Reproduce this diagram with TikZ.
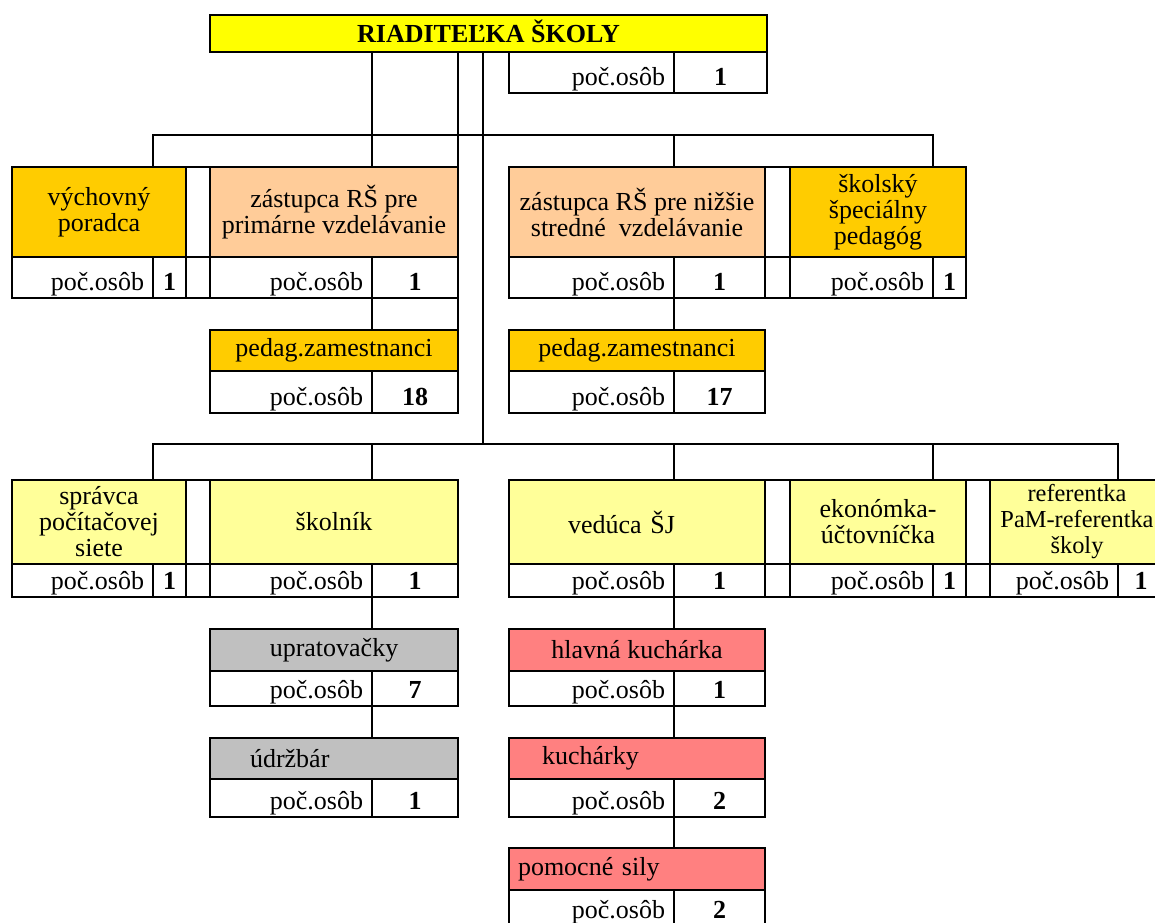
\documentclass[tikz,border=0pt]{standalone}
\usepackage{fontspec}
\setmainfont{Liberation Serif}
\usetikzlibrary{positioning,calc}
\definecolor{zlta}{HTML}{FFFF00}
\definecolor{oranzova}{HTML}{FFCC00}
\definecolor{marhulova}{HTML}{FFCC99}
\definecolor{svetlozlta}{HTML}{FFFF99}
\definecolor{siva}{HTML}{C0C0C0}
\definecolor{ruzova}{HTML}{FF8080}
\tikzstyle{bunka}=[draw,rectangle,inner sep=0pt,outer sep=0pt,anchor=north west]
\tikzstyle{hlava}=[bunka,fill=zlta,font=\bfseries,text height=8.5pt,text depth=0pt]
\tikzstyle{oranz}=[bunka,fill=oranzova,align=center]
\tikzstyle{zast}=[bunka,fill=marhulova,align=center]
\tikzstyle{prac}=[bunka,fill=svetlozlta,align=center]
\tikzstyle{upr}=[bunka,fill=siva,align=center]
\tikzstyle{kuchyna}=[bunka,fill=ruzova,align=center]
\tikzstyle{pocet}=[bunka,fill=white,align=right,inner xsep=4.5pt,text depth=0pt]
\tikzstyle{cislo}=[bunka,fill=white,font=\bfseries,text depth=0pt]
\tikzstyle{medzera}=[bunka,fill=white]

\begin{document}
\fontsize{13}{13}\selectfont
\begin{tikzpicture}[x=0.5pt,y=-0.5pt,line width=1pt]
  \useasboundingbox (0,0) rectangle (1155,922);
  % riaditelka
  \node [hlava,minimum width=278.5pt,minimum height=18.5pt] (riad) at (210,15) {RIADITEĽKA ŠKOLY};
  \node [pocet,text width=73.5pt,minimum height=20.5pt,text height=12.5pt] (riad-p) at (509,52) {poč.osôb};
  \node [cislo,minimum width=46.5pt,minimum height=20.5pt,text height=12.5pt] (riad-n) at (riad-p.north east) {1};

  % prvy rad
  \node [oranz,minimum width=87pt,minimum height=45pt] (vych) at (12,167) {výchovný\\poradca};
  \node [pocet,text width=61.5pt,minimum height=20.5pt,text height=12.5pt] (vych-p) at (vych.south west) {poč.osôb};
  \node [cislo,minimum width=16.5pt,minimum height=20.5pt,text height=12.5pt] (vych-n) at (vych-p.north east) {1};
  \node [medzera,minimum width=12pt,minimum height=45pt] (m1) at (vych.north east) {};
  \node [medzera,minimum width=12pt,minimum height=20.5pt] (m1-p) at (m1.south west) {};
  \node [zast,minimum width=124pt,minimum height=45pt] (zastP) at (m1.north east) {zástupca RŠ pre\\primárne vzdelávanie};
  \node [pocet,text width=72pt,minimum height=20.5pt,text height=12.5pt] (zastP-p) at (zastP.south west) {poč.osôb};
  \node [cislo,minimum width=43pt,minimum height=20.5pt,text height=12.5pt] (zastP-n) at (zastP-p.north east) {1};

  \node [zast,minimum width=128pt,minimum height=45pt] (zastN) at (509,167) {zástupca RŠ pre nižšie\\stredné\ \ vzdelávanie};
  \node [pocet,text width=73.5pt,minimum height=20.5pt,text height=12.5pt] (zastN-p) at (zastN.south west) {poč.osôb};
  \node [cislo,minimum width=45.5pt,minimum height=20.5pt,text height=12.5pt] (zastN-n) at (zastN-p.north east) {1};
  \node [medzera,minimum width=12.5pt,minimum height=45pt] (m2) at (zastN.north east) {};
  \node [medzera,minimum width=12.5pt,minimum height=20.5pt] (m2-p) at (m2.south west) {};
  \node [oranz,minimum width=88pt,minimum height=45pt] (skolsky) at (m2.north east) {školský\\špeciálny\\pedagóg};
  \node [pocet,text width=62.5pt,minimum height=20.5pt,text height=12.5pt] (skolsky-p) at (skolsky.south west) {poč.osôb};
  \node [cislo,minimum width=16.5pt,minimum height=20.5pt,text height=12.5pt] (skolsky-n) at (skolsky-p.north east) {1};

  % pedagogovia
  \node [oranz,minimum width=124pt,minimum height=20.5pt] (pedP) at (210,330) {pedag.zamestnanci};
  \node [pocet,text width=72pt,minimum height=21pt,text height=13pt] (pedP-p) at (pedP.south west) {poč.osôb};
  \node [cislo,minimum width=43pt,minimum height=21pt,text height=13pt] (pedP-n) at (pedP-p.north east) {18};
  \node [oranz,minimum width=128pt,minimum height=20.5pt] (pedN) at (509,330) {pedag.zamestnanci};
  \node [pocet,text width=73.5pt,minimum height=21pt,text height=13pt] (pedN-p) at (pedN.south west) {poč.osôb};
  \node [cislo,minimum width=45.5pt,minimum height=21pt,text height=13pt] (pedN-n) at (pedN-p.north east) {17};

  % druhy rad
  \node [prac,minimum width=87pt,minimum height=42pt] (sprav) at (12,480) {správca\\počítačovej\\siete};
  \node [pocet,text width=61.5pt,minimum height=16.5pt,text height=8.5pt] (sprav-p) at (sprav.south west) {poč.osôb};
  \node [cislo,minimum width=16.5pt,minimum height=16.5pt,text height=8.5pt] (sprav-n) at (sprav-p.north east) {1};
  \node [medzera,minimum width=12pt,minimum height=42pt] (m3) at (sprav.north east) {};
  \node [medzera,minimum width=12pt,minimum height=16.5pt] (m3-p) at (m3.south west) {};
  \node [prac,minimum width=124pt,minimum height=42pt] (skoln) at (m3.north east) {školník};
  \node [pocet,text width=72pt,minimum height=16.5pt,text height=8.5pt] (skoln-p) at (skoln.south west) {poč.osôb};
  \node [cislo,minimum width=43pt,minimum height=16.5pt,text height=8.5pt] (skoln-n) at (skoln-p.north east) {1};

  \node [prac,align=left,text width=69pt,inner xsep=29.5pt,minimum height=42pt] (vedu) at (509,480) {vedúca ŠJ};
  \node [pocet,text width=73.5pt,minimum height=16.5pt,text height=8.5pt] (vedu-p) at (vedu.south west) {poč.osôb};
  \node [cislo,minimum width=45.5pt,minimum height=16.5pt,text height=8.5pt] (vedu-n) at (vedu-p.north east) {1};
  \node [medzera,minimum width=12.5pt,minimum height=42pt] (m4) at (vedu.north east) {};
  \node [medzera,minimum width=12.5pt,minimum height=16.5pt] (m4-p) at (m4.south west) {};
  \node [prac,minimum width=88pt,minimum height=42pt] (ekon) at (m4.north east) {ekonómka-\\účtovníčka};
  \node [pocet,text width=62.5pt,minimum height=16.5pt,text height=8.5pt] (ekon-p) at (ekon.south west) {poč.osôb};
  \node [cislo,minimum width=16.5pt,minimum height=16.5pt,text height=8.5pt] (ekon-n) at (ekon-p.north east) {1};
  \node [medzera,minimum width=12pt,minimum height=42pt] (m5) at (ekon.north east) {};
  \node [medzera,minimum width=12pt,minimum height=16.5pt] (m5-p) at (m5.south west) {};
  \node [prac,minimum width=87pt,minimum height=42pt,font=\fontsize{12.2}{13}\selectfont] (refer) at (m5.north east) {referentka\\PaM-referentka\\školy};
  \node [pocet,text width=55pt,minimum height=16.5pt,text height=8.5pt] (refer-p) at (refer.south west) {poč.osôb};
  \node [cislo,minimum width=23pt,minimum height=16.5pt,text height=8.5pt] (refer-n) at (refer-p.north east) {1};

  % upratovanie
  \node [upr,minimum width=124pt,minimum height=21pt] (uprat) at (210,629) {upratovačky};
  \node [pocet,text width=72pt,minimum height=17.5pt,text height=9.5pt] (uprat-p) at (uprat.south west) {poč.osôb};
  \node [cislo,minimum width=43pt,minimum height=17.5pt,text height=9.5pt] (uprat-n) at (uprat-p.north east) {7};
  \node [upr,align=left,text width=84pt,inner xsep=20pt,minimum height=20.5pt] (udrz) at (210,738) {údržbár};
  \node [pocet,text width=72pt,minimum height=19pt,text height=11pt] (udrz-p) at (udrz.south west) {poč.osôb};
  \node [cislo,minimum width=43pt,minimum height=19pt,text height=11pt] (udrz-n) at (udrz-p.north east) {1};

  % jedalen
  \node [kuchyna,minimum width=128pt,minimum height=21pt] (hlav) at (509,629) {hlavná kuchárka};
  \node [pocet,text width=73.5pt,minimum height=17.5pt,text height=9.5pt] (hlav-p) at (hlav.south west) {poč.osôb};
  \node [cislo,minimum width=45.5pt,minimum height=17.5pt,text height=9.5pt] (hlav-n) at (hlav-p.north east) {1};
  \node [kuchyna,align=left,text width=95pt,inner xsep=16.5pt,minimum height=20.5pt] (kuch) at (509,738) {kuchárky};
  \node [pocet,text width=73.5pt,minimum height=19pt,text height=11pt] (kuch-p) at (kuch.south west) {poč.osôb};
  \node [cislo,minimum width=45.5pt,minimum height=19pt,text height=11pt] (kuch-n) at (kuch-p.north east) {2};
  \node [kuchyna,align=left,text width=119pt,inner xsep=4.5pt,minimum height=21pt] (pomoc) at (509,848) {pomocné sily};
  \node [pocet,text width=73.5pt,minimum height=18pt,text height=10pt] (pomoc-p) at (pomoc.south west) {poč.osôb};
  \node [cislo,minimum width=45.5pt,minimum height=18pt,text height=10pt] (pomoc-n) at (pomoc-p.north east) {2};

  % spojnice
  \coordinate (bus1) at (483,135);
  \coordinate (bus2) at (483,444);
  \draw (vych.north -| vych-n.west) |- (bus1) -| (skolsky.north -| skolsky-n.west);
  \draw (riad.south -| zastP-n.west) -- (zastP.north -| zastP-n.west);
  \draw (bus1 -| zastN-n.west) -- (zastN.north -| zastN-n.west);
  \draw (riad.south -| zastP.east) -- (pedP.north east);
  \draw (riad.south -| bus2) -- (bus2);
  \draw (sprav.north -| sprav-n.west) |- (bus2) -| (refer.north -| refer-n.west);
  \foreach \n in {skoln,vedu,ekon}
    \draw (bus2 -| \n-n.west) -- (\n.north -| \n-n.west);
  \foreach \a/\b in {zastP/pedP,zastN/pedN,skoln/uprat,uprat/udrz,vedu/hlav,hlav/kuch,kuch/pomoc}
    \draw (\a-n.south west) -- (\b.north -| \b-n.west);
\end{tikzpicture}
\end{document}
